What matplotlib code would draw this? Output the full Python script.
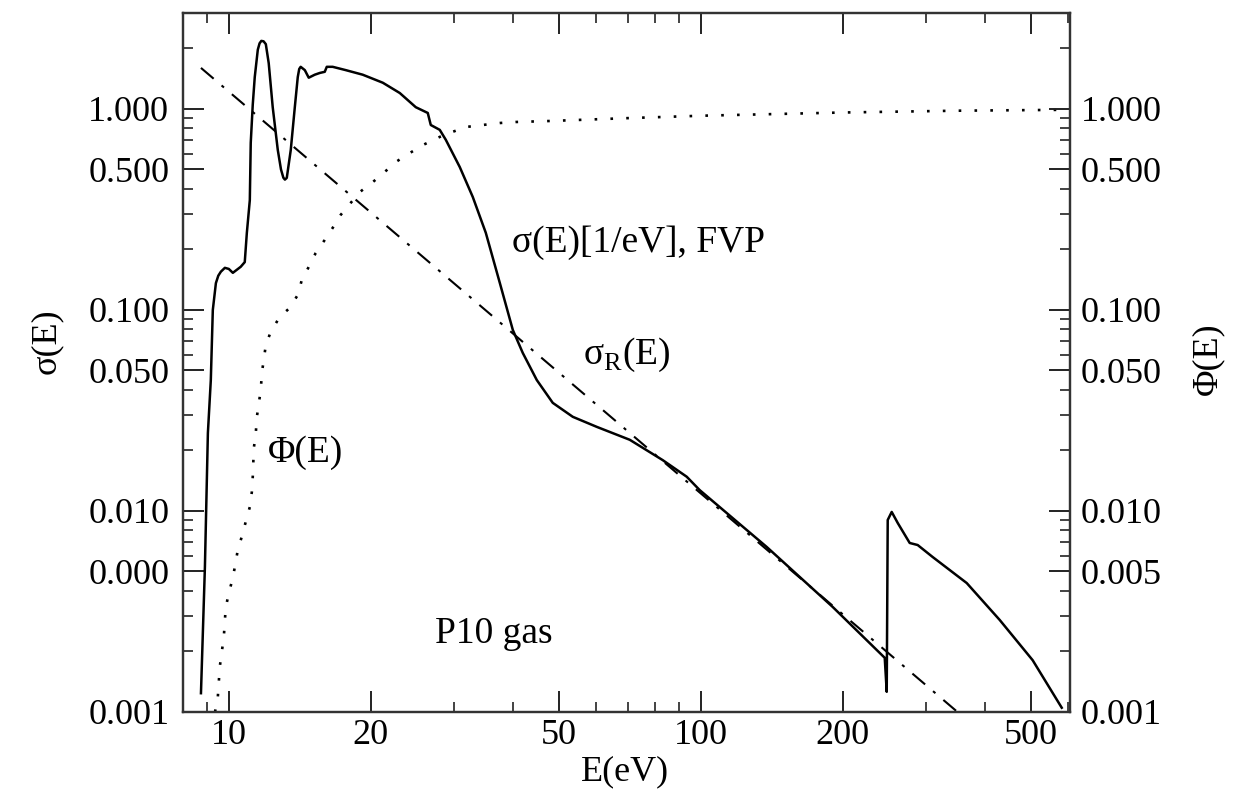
import numpy as np
import matplotlib
matplotlib.use("Agg")
import matplotlib.pyplot as plt
from matplotlib.ticker import FixedLocator, LogLocator, FixedFormatter, NullFormatter

plt.rcParams['font.family'] = ['Liberation Serif', 'DejaVu Serif']
plt.rcParams['mathtext.fontset'] = 'custom'
plt.rcParams['mathtext.rm'] = 'Liberation Serif'

# sigma(E) [1/eV], FVP  (solid)
sigma_E = [8.73, 8.90, 9.03, 9.16, 9.25, 9.39, 9.50, 9.62, 9.81, 10.0, 10.20, 10.60,
           10.81, 10.92, 11.08, 11.13, 11.24, 11.35, 11.52, 11.62, 11.72, 11.85,
           11.98, 12.15, 12.39, 12.70, 12.90, 13.05, 13.15, 13.27, 13.53, 13.80,
           14.00, 14.10, 14.20, 14.49, 14.77, 15.21, 15.59, 15.97, 16.13, 16.6,
           17.69, 19.22, 21.20, 23.03, 24.90, 26.40, 26.79, 27.99, 28.83, 30.86,
           32.88, 35.04, 37.53, 39.98, 41.97, 44.94, 48.58, 53.57, 60.23, 70.73,
           83.08, 93.4, 99.5, 138, 190.4, 245.4, 247.8, 249.0, 253.9, 261.5,
           277.2, 288.2, 310.1, 366.1, 430, 505, 582]
sigma_val = [0.00124, 0.00527, 0.0244, 0.0448, 0.100, 0.136, 0.148, 0.155, 0.162,
             0.160, 0.153, 0.164, 0.173, 0.2415, 0.352, 0.678, 1.05, 1.44, 1.97,
             2.12, 2.18, 2.17, 2.10, 1.69, 1.02, 0.625, 0.50, 0.455, 0.445, 0.454,
             0.625, 1.02, 1.44, 1.58, 1.62, 1.56, 1.43, 1.48, 1.51, 1.53, 1.62,
             1.62, 1.56, 1.48, 1.35, 1.20, 1.02, 0.955, 0.832, 0.787, 0.702, 0.514,
             0.365, 0.242, 0.136, 0.0795, 0.0611, 0.0448, 0.0345, 0.0294, 0.0262,
             0.0226, 0.0179, 0.0148, 0.0127, 0.00662, 0.00333, 0.00186, 0.00126,
             0.00902, 0.00989, 0.00871, 0.00693, 0.00677, 0.0059, 0.00438,
             0.00287, 0.00181, 0.00105]

# sigma_R(E)  (dash-dot)
sigR_E = [8.73, 350]
sigR_val = [1.60, 0.001]

# Phi(E)  (dotted)
phi_E = [9.35, 9.48, 9.57, 9.76, 9.85, 10.0, 10.2, 10.45, 10.65, 10.86, 11.08,
         11.19, 11.24, 11.30, 11.41, 11.46, 11.58, 11.69, 11.75, 11.86, 11.98,
         12.27, 12.82, 13.46, 14.0, 14.28, 14.77, 15.28, 15.97, 16.6, 17.26,
         18.13, 18.95, 20.2, 21.4, 22.6, 24.2, 25.8, 28.0, 29.8, 31.8, 34.5,
         37.5, 40.5, 47.9, 70, 100, 200, 350, 590]
phi_val = [0.001, 0.00119, 0.00168, 0.00236, 0.00329, 0.00391, 0.00464, 0.0064,
           0.00743, 0.00882, 0.01047, 0.01244, 0.01476, 0.02057, 0.02443, 0.02902,
           0.03446, 0.04, 0.0486, 0.0564, 0.0670, 0.0778, 0.0923, 0.1023, 0.1188,
           0.141, 0.1637, 0.192, 0.223, 0.256, 0.297, 0.341, 0.386, 0.433, 0.486,
           0.545, 0.604, 0.662, 0.726, 0.769, 0.813, 0.832, 0.851, 0.861, 0.871,
           0.90, 0.925, 0.96, 0.98, 0.99]

x_ticks = [10, 20, 50, 100, 200, 500]
x_labels = ["10", "20", "50", "100", "200", "500"]
y_ticks = [0.001, 0.005, 0.01, 0.05, 0.1, 0.5, 1.0]
y_labels_left = ["0.001", "0.000", "0.010", "0.050", "0.100", "0.500", "1.000"]
y_labels_right = ["0.001", "0.005", "0.010", "0.050", "0.100", "0.500", "1.000"]

fig = plt.figure(figsize=(12.47, 7.99), dpi=100)
ax = fig.add_axes([0.1468, 0.1089, 0.711, 0.8748])

ax.plot(sigma_E, sigma_val, color='black', lw=1.8, solid_joinstyle='round')
ax.plot(sigR_E, sigR_val, color='black', lw=1.5, linestyle=(0, (8, 5, 1.5, 5)))
ax.plot(phi_E, phi_val, color='black', lw=1.9, linestyle=(0, (1, 5)))

ax.set_xscale('log')
ax.set_yscale('log')
ax.set_xlim(8.0, 605)
ax.set_ylim(0.001, 3.0)

fs = 26
ax.xaxis.set_major_locator(FixedLocator(x_ticks))
ax.xaxis.set_major_formatter(FixedFormatter(x_labels))
ax.xaxis.set_minor_locator(LogLocator(base=10, subs=np.arange(2, 10)))
ax.xaxis.set_minor_formatter(NullFormatter())
ax.yaxis.set_major_locator(FixedLocator(y_ticks))
ax.yaxis.set_major_formatter(FixedFormatter(y_labels_left))
ax.yaxis.set_minor_locator(LogLocator(base=10, subs=np.arange(2, 10)))
ax.yaxis.set_minor_formatter(NullFormatter())

ax2 = ax.twinx()
ax2.set_yscale('log')
ax2.set_ylim(ax.get_ylim())
ax2.yaxis.set_major_locator(FixedLocator(y_ticks))
ax2.yaxis.set_major_formatter(FixedFormatter(y_labels_right))
ax2.yaxis.set_minor_locator(LogLocator(base=10, subs=np.arange(2, 10)))
ax2.yaxis.set_minor_formatter(NullFormatter())

for a in (ax, ax2):
    for s in a.spines.values():
        s.set_linewidth(1.6)
        s.set_color('#333333')
ax.tick_params(which='both', direction='in', top=True, right=False, color='#222222')
ax.tick_params(which='major', length=15, width=1.4, labelsize=fs)
ax.tick_params(which='minor', length=7, width=1.2)
ax.tick_params(axis='y', which='major', pad=10)
ax.tick_params(axis='x', which='major', pad=5)
ax2.tick_params(which='both', direction='in', color='#222222')
ax2.tick_params(which='major', length=15, width=1.4, labelsize=fs, pad=8)
ax2.tick_params(which='minor', length=7, width=1.2)

ax.set_xlabel("E(eV)", fontsize=fs)
ax.xaxis.set_label_coords(0.498, -0.062)
ax.set_ylabel("σ(E)", fontsize=fs)
ax.yaxis.set_label_coords(-0.136, 0.53)
ax2.set_ylabel("Φ(E)", fontsize=fs)
ax2.yaxis.set_label_coords(1.1375, 0.505)

tfs = 27
ax.text(0.371, 0.671, "σ(E)[1/eV], FVP", transform=ax.transAxes, fontsize=tfs, va='center')
ax.text(0.451, 0.511, "σ$_{\\mathrm{R}}$(E)", transform=ax.transAxes, fontsize=tfs, va='center')
ax.text(0.0958, 0.3705, "Φ(E)", transform=ax.transAxes, fontsize=tfs, va='center')
ax.text(0.284, 0.112, "P10 gas", transform=ax.transAxes, fontsize=tfs, va='center')

fig.savefig("out.png", dpi=100)
